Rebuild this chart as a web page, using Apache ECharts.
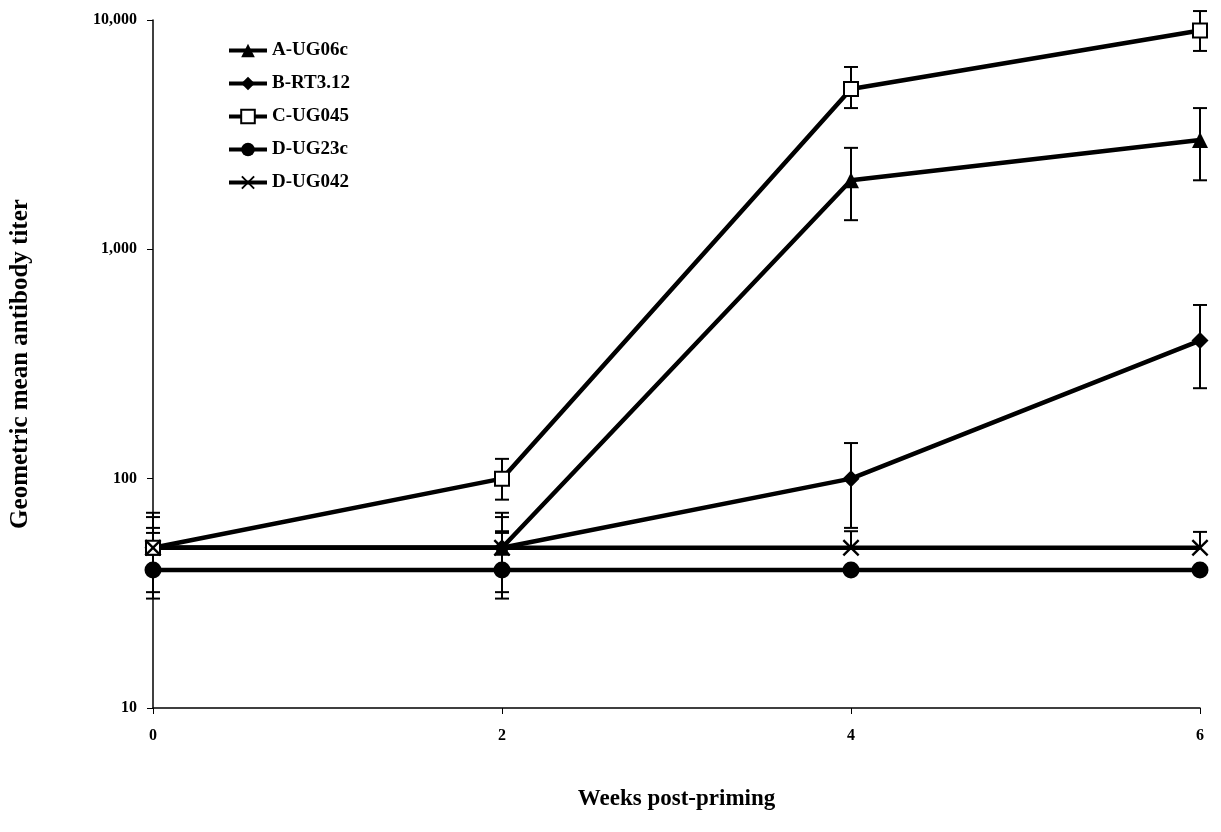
<!DOCTYPE html>
<html>
<head>
<meta charset="utf-8">
<script src="https://cdn.jsdelivr.net/npm/echarts@6/dist/echarts.min.js"></script>
<style>
  html, body { margin: 0; padding: 0; background: #fff; }
  #chart { width: 1221px; height: 832px; }
</style>
</head>
<body>
<div id="chart"></div>
<script>
const weeks = [0, 2, 4, 6];
const yTicks = [10, 100, 1000, 10000];

const names = ["A-UG06c", "B-RT3.12", "C-UG045", "D-UG23c", "D-UG042"];
const ug06c = [50, 50, 2000, 3000];
const rt312 = [50, 50, 100, 400];
const ug045 = [50, 100, 5000, 9000];
const ug23c = [40, 40, 40, 40];
const ug042 = [50, 50, 50, 50];

// error bar ends, null = no bar on that side
const ug06cLow = [32, 32, 1340, 2000];
const ug06cHigh = [71, 71, 2770, 4130];
const rt312Low = [null, null, 61, 248];
const rt312High = [68, 68, 143, 572];
const ug045Low = [null, 81, 4130, 7330];
const ug045High = [61, 122, 6240, 10940];
const ug23cLow = [30, 30, null, null];
const ug23cHigh = [58, 58, null, null];
const ug042Low = [null, null, null, null];
const ug042High = [null, 59, 59, 58.6];

const crossPath = "path://M0,1 L1,0 L5,4 L9,0 L10,1 L6,5 L10,9 L9,10 L5,6 L1,10 L0,9 L4,5 Z";

const lines = [
  { name: names[0], data: ug06c, low: ug06cLow, high: ug06cHigh, symbol: "triangle", size: 16, fill: "#000" },
  { name: names[1], data: rt312, low: rt312Low, high: rt312High, symbol: "diamond", size: 17, fill: "#000" },
  { name: names[2], data: ug045, low: ug045Low, high: ug045High, symbol: "rect", size: 14, fill: "#fff" },
  { name: names[3], data: ug23c, low: ug23cLow, high: ug23cHigh, symbol: "circle", size: 17, fill: "#000" },
  { name: names[4], data: ug042, low: ug042Low, high: ug042High, symbol: crossPath, size: 17, fill: "#000" },
];

function errorRender(params, api) {
  const x = api.value(0);
  const mean = api.value(1);
  const lo = api.value(2);
  const hi = api.value(3);
  const hasLo = !isNaN(lo);
  const hasHi = !isNaN(hi);
  if (!hasLo && !hasHi) return;
  const top = api.coord([x, hasHi ? hi : mean]);
  const bot = api.coord([x, hasLo ? lo : mean]);
  const style = { stroke: "#000", lineWidth: 2 };
  const children = [{
    type: "line",
    shape: { x1: top[0], y1: top[1], x2: bot[0], y2: bot[1] },
    style: style,
  }];
  if (hasHi) children.push({ type: "line", shape: { x1: top[0] - 7, y1: top[1], x2: top[0] + 7, y2: top[1] }, style: style });
  if (hasLo) children.push({ type: "line", shape: { x1: bot[0] - 7, y1: bot[1], x2: bot[0] + 7, y2: bot[1] }, style: style });
  return { type: "group", children: children };
}

const series = [];
lines.forEach((s) => {
  series.push({
    type: "custom",
    name: s.name + " err",
    renderItem: errorRender,
    data: weeks.map((w, i) => [w, s.data[i], s.low[i] == null ? "-" : s.low[i], s.high[i] == null ? "-" : s.high[i]]),
    encode: { x: 0, y: 1 },
    z: 1,
    silent: true,
  });
});
lines.forEach((s) => {
  series.push({
    type: "line",
    name: s.name,
    data: weeks.map((w, i) => [w, s.data[i]]),
    symbol: s.symbol,
    symbolSize: s.size,
    showAllSymbol: true,
    lineStyle: { color: "#000", width: 4.5 },
    itemStyle: { color: s.fill, borderColor: "#000", borderWidth: s.fill === "#fff" ? 2 : 0 },
    z: 3,
  });
});

const chart = echarts.init(document.getElementById("chart"));
chart.setOption({
  animation: false,
  grid: { left: 150, right: 21, top: 20, bottom: 124 },
  legend: {
    data: names,
    orient: "vertical",
    left: 222,
    top: 36,
    itemGap: 14,
    itemWidth: 38,
    itemHeight: 17,
    lineStyle: { width: 4 },
    textStyle: { fontFamily: "Liberation Serif", fontSize: 19, fontWeight: "bold", color: "#000" },
  },
  xAxis: {
    type: "value",
    min: 0,
    max: 6,
    interval: 2,
    name: "Weeks post-priming",
    nameLocation: "middle",
    nameGap: 80,
    nameTextStyle: { fontFamily: "Liberation Serif", fontSize: 23, fontWeight: "bold", color: "#000" },
    axisLine: { lineStyle: { color: "#000", width: 1.5 } },
    axisTick: { show: true, length: 6, lineStyle: { color: "#000" } },
    axisLabel: { margin: 20, fontFamily: "Liberation Serif", fontSize: 16, fontWeight: "bold", color: "#000" },
    splitLine: { show: false },
  },
  yAxis: {
    type: "log",
    logBase: 10,
    min: yTicks[0],
    max: yTicks[yTicks.length - 1],
    name: "Geometric mean antibody titer",
    nameLocation: "middle",
    nameGap: 120,
    nameTextStyle: { fontFamily: "Liberation Serif", fontSize: 25, fontWeight: "bold", color: "#000" },
    axisLine: { show: true, lineStyle: { color: "#000", width: 1.5 } },
    axisTick: { show: true, length: 6, lineStyle: { color: "#000" } },
    axisLabel: {
      margin: 16,
      fontFamily: "Liberation Serif",
      fontSize: 16,
      fontWeight: "bold",
      color: "#000",
      formatter: (v) => Number(v).toLocaleString("en-US"),
    },
    splitLine: { show: false },
  },
  series: series,
});
window.addEventListener("resize", chart.resize);
</script>
</body>
</html>
